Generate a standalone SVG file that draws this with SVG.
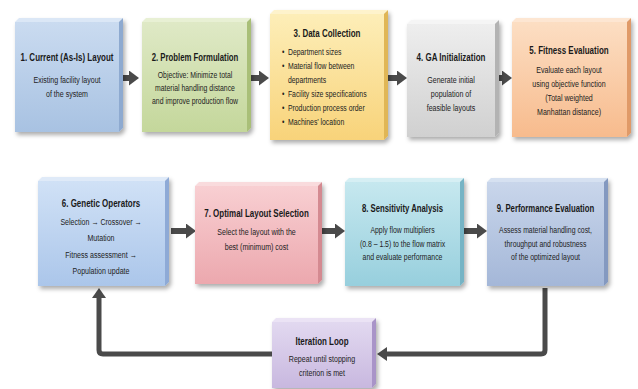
<svg xmlns="http://www.w3.org/2000/svg" width="638" height="389" viewBox="0 0 638 389">
<style>
.t{font-family:"Liberation Sans",Arial,sans-serif;font-size:10.5px;font-weight:bold;fill:#1a1a1a}
.b{font-family:"Liberation Sans",Arial,sans-serif;font-size:9.3px;fill:#222222}
.c{text-anchor:middle}
.ar{stroke:#4a4a4a;stroke-width:6;fill:none;marker-end:url(#ah)}
.lp{stroke:#4a4a4a;stroke-width:5;fill:none;stroke-linejoin:round;marker-end:url(#ah2)}
.box{filter:url(#sh)}
</style>
<defs>
<filter id="sh" x="-20%" y="-20%" width="140%" height="140%"><feDropShadow dx="2" dy="3" stdDeviation="2" flood-color="#000" flood-opacity="0.32"/></filter>
<marker id="ah" markerUnits="userSpaceOnUse" viewBox="0 0 10 15" refX="0" refY="7.5" markerWidth="10" markerHeight="15" orient="auto"><path d="M0,0 L10,7.5 L0,15 z" fill="#4a4a4a"/></marker>
<marker id="ah2" markerUnits="userSpaceOnUse" viewBox="0 0 10 14" refX="0" refY="7" markerWidth="10" markerHeight="14" orient="auto"><path d="M0,0 L10,7 L0,14 z" fill="#4a4a4a"/></marker>
<linearGradient id="g1" x1="0" y1="0" x2="0" y2="1"><stop offset="0" stop-color="#cadbf0"/><stop offset="1" stop-color="#a8c2e2"/></linearGradient>
<linearGradient id="g2" x1="0" y1="0" x2="0" y2="1"><stop offset="0" stop-color="#dfe9c6"/><stop offset="1" stop-color="#c4d79b"/></linearGradient>
<linearGradient id="g3" x1="0" y1="0" x2="0" y2="1"><stop offset="0" stop-color="#fdeeb8"/><stop offset="1" stop-color="#f8d37a"/></linearGradient>
<linearGradient id="g4" x1="0" y1="0" x2="0" y2="1"><stop offset="0" stop-color="#eeeeee"/><stop offset="1" stop-color="#d0d0d0"/></linearGradient>
<linearGradient id="g5" x1="0" y1="0" x2="0" y2="1"><stop offset="0" stop-color="#fcdec3"/><stop offset="1" stop-color="#f7bb8d"/></linearGradient>
<linearGradient id="g6" x1="0" y1="0" x2="0" y2="1"><stop offset="0" stop-color="#d0e1f6"/><stop offset="1" stop-color="#abc6ea"/></linearGradient>
<linearGradient id="g7" x1="0" y1="0" x2="0" y2="1"><stop offset="0" stop-color="#f8cfd2"/><stop offset="1" stop-color="#eca8ae"/></linearGradient>
<linearGradient id="g8" x1="0" y1="0" x2="0" y2="1"><stop offset="0" stop-color="#c6e8ef"/><stop offset="1" stop-color="#97cfdd"/></linearGradient>
<linearGradient id="g9" x1="0" y1="0" x2="0" y2="1"><stop offset="0" stop-color="#c9d6eb"/><stop offset="1" stop-color="#a4b7d8"/></linearGradient>
<linearGradient id="g10" x1="0" y1="0" x2="0" y2="1"><stop offset="0" stop-color="#e2d9f0"/><stop offset="1" stop-color="#c8b8df"/></linearGradient>
</defs>
<rect width="638" height="389" fill="#ffffff"/>

<g id="connectors">
<line class="ar" x1="123" y1="78" x2="129" y2="78"/>
<line class="ar" x1="251" y1="78" x2="259" y2="78"/>
<line class="ar" x1="388" y1="78" x2="397" y2="78"/>
<line class="ar" x1="499" y1="78" x2="502" y2="78"/>
<line class="ar" x1="171" y1="231" x2="186" y2="231"/>
<line class="ar" x1="322" y1="231" x2="335" y2="231"/>
<line class="ar" x1="464" y1="231" x2="477" y2="231"/>
<path class="lp" d="M545,288 V350 Q545,354 541,354 H387"/>
<path class="lp" d="M272,354 H103 Q99,354 99,350 V298"/>
</g>

<g id="n1">
<g class="box"><polygon points="15,22 19,18 123,18 119,22" fill="#dbe7f6"/><polygon points="119,22 123,18 123,128 119,132" fill="#8eaad0"/><rect x="15" y="22" width="104" height="110" fill="url(#g1)"/></g>
<g transform="translate(67 0) scale(0.76 1)"><text class="t c" x="0" y="61">1. Current (As-Is) Layout</text><text class="b c" x="0" y="83">Existing facility layout</text><text class="b c" x="0" y="97">of the system</text></g>
</g>

<g id="n2">
<g class="box"><polygon points="142,22 146,18 251,18 247,22" fill="#e8f0d4"/><polygon points="247,22 251,18 251,128 247,132" fill="#a9bf78"/><rect x="142" y="22" width="105" height="110" fill="url(#g2)"/></g>
<g transform="translate(195 0) scale(0.74 1)"><text class="t c" x="0" y="61">2. Problem Formulation</text><text class="b c" x="0" y="78">Objective: Minimize total</text><text class="b c" x="0" y="91">material handling distance</text><text class="b c" x="0" y="104">and improve production flow</text></g>
</g>

<g id="n3">
<g class="box"><polygon points="270,14 274,10 388,10 384,14" fill="#fef3cc"/><polygon points="384,14 388,10 388,136 384,140" fill="#e0b656"/><rect x="270" y="14" width="114" height="126" fill="url(#g3)"/></g>
<g transform="translate(327 0) scale(0.76 1)"><text class="t c" x="0" y="37">3. Data Collection</text></g>
<g transform="translate(282 0) scale(0.74 1)">
<text class="b" x="0" y="55">•</text><text class="b" x="8" y="55">Department sizes</text>
<text class="b" x="0" y="69">•</text><text class="b" x="8" y="69">Material flow between</text>
<text class="b" x="8" y="83">departments</text>
<text class="b" x="0" y="97">•</text><text class="b" x="8" y="97">Facility size specifications</text>
<text class="b" x="0" y="111">•</text><text class="b" x="8" y="111">Production process order</text>
<text class="b" x="0" y="125">•</text><text class="b" x="8" y="125">Machines’ location</text>
</g>
</g>

<g id="n4">
<g class="box"><polygon points="407,24 411,20 499,20 495,24" fill="#f5f5f5"/><polygon points="495,24 499,20 499,133 495,137" fill="#b3b3b3"/><rect x="407" y="24" width="88" height="113" fill="url(#g4)"/></g>
<g transform="translate(451 0) scale(0.76 1)"><text class="t c" x="0" y="61">4. GA Initialization</text><text class="b c" x="0" y="83">Generate initial</text><text class="b c" x="0" y="97">population of</text><text class="b c" x="0" y="111">feasible layouts</text></g>
</g>

<g id="n5">
<g class="box"><polygon points="512,22 516,18 631,18 627,22" fill="#fde6d2"/><polygon points="627,22 631,18 631,133 627,137" fill="#e09a68"/><rect x="512" y="22" width="115" height="115" fill="url(#g5)"/></g>
<g transform="translate(569 0) scale(0.76 1)"><text class="t c" x="0" y="54">5. Fitness Evaluation</text><text class="b c" x="0" y="73">Evaluate each layout</text><text class="b c" x="0" y="87">using objective function</text><text class="b c" x="0" y="101">(Total weighted</text><text class="b c" x="0" y="115">Manhattan distance)</text></g>
</g>

<g id="n6">
<g class="box"><polygon points="38,181 42,177 169,177 165,181" fill="#dfeaf8"/><polygon points="165,181 169,177 169,282 165,286" fill="#8eaad6"/><rect x="38" y="181" width="127" height="105" fill="url(#g6)"/></g>
<g transform="translate(101 0) scale(0.76 1)"><text class="t c" x="0" y="207">6. Genetic Operators</text><text class="b c" x="0" y="225">Selection → Crossover →</text><text class="b c" x="0" y="241">Mutation</text><text class="b c" x="0" y="258">Fitness assessment →</text><text class="b c" x="0" y="274">Population update</text></g>
</g>

<g id="n7">
<g class="box"><polygon points="195,186 199,182 322,182 318,186" fill="#f9dbdd"/><polygon points="318,186 322,182 322,280 318,284" fill="#d48a91"/><rect x="195" y="186" width="123" height="98" fill="url(#g7)"/></g>
<g transform="translate(256.5 0) scale(0.76 1)"><text class="t c" x="0" y="217">7. Optimal Layout Selection</text><text class="b c" x="0" y="235">Select the layout with the</text><text class="b c" x="0" y="250">best (minimum) cost</text></g>
</g>

<g id="n8">
<g class="box"><polygon points="345,182 349,178 464,178 460,182" fill="#d6eff4"/><polygon points="460,182 464,178 464,282 460,286" fill="#76b4c5"/><rect x="345" y="182" width="115" height="104" fill="url(#g8)"/></g>
<g transform="translate(402.5 0) scale(0.74 1)"><text class="t c" x="0" y="212">8. Sensitivity Analysis</text><text class="b c" x="0" y="233">Apply flow multipliers</text><text class="b c" x="0" y="247">(0.8 – 1.5) to the flow matrix</text><text class="b c" x="0" y="260">and evaluate performance</text></g>
</g>

<g id="n9">
<g class="box"><polygon points="487,182 491,178 608,178 604,182" fill="#d6e1f1"/><polygon points="604,182 608,178 608,282 604,286" fill="#8499c0"/><rect x="487" y="182" width="117" height="104" fill="url(#g9)"/></g>
<g transform="translate(545.5 0) scale(0.74 1)"><text class="t c" x="0" y="212">9. Performance Evaluation</text><text class="b c" x="0" y="233">Assess material handling cost,</text><text class="b c" x="0" y="247">throughput and robustness</text><text class="b c" x="0" y="260">of the optimized layout</text></g>
</g>

<g id="n10">
<g class="box"><polygon points="272,322 276,318 376,318 372,322" fill="#ebe3f5"/><polygon points="372,322 376,318 376,384 372,388" fill="#a994c8"/><rect x="272" y="322" width="100" height="66" fill="url(#g10)"/></g>
<g transform="translate(322 0) scale(0.76 1)"><text class="t c" x="0" y="345">Iteration Loop</text><text class="b c" x="0" y="362">Repeat until stopping</text><text class="b c" x="0" y="376">criterion is met</text></g>
</g>
</svg>
